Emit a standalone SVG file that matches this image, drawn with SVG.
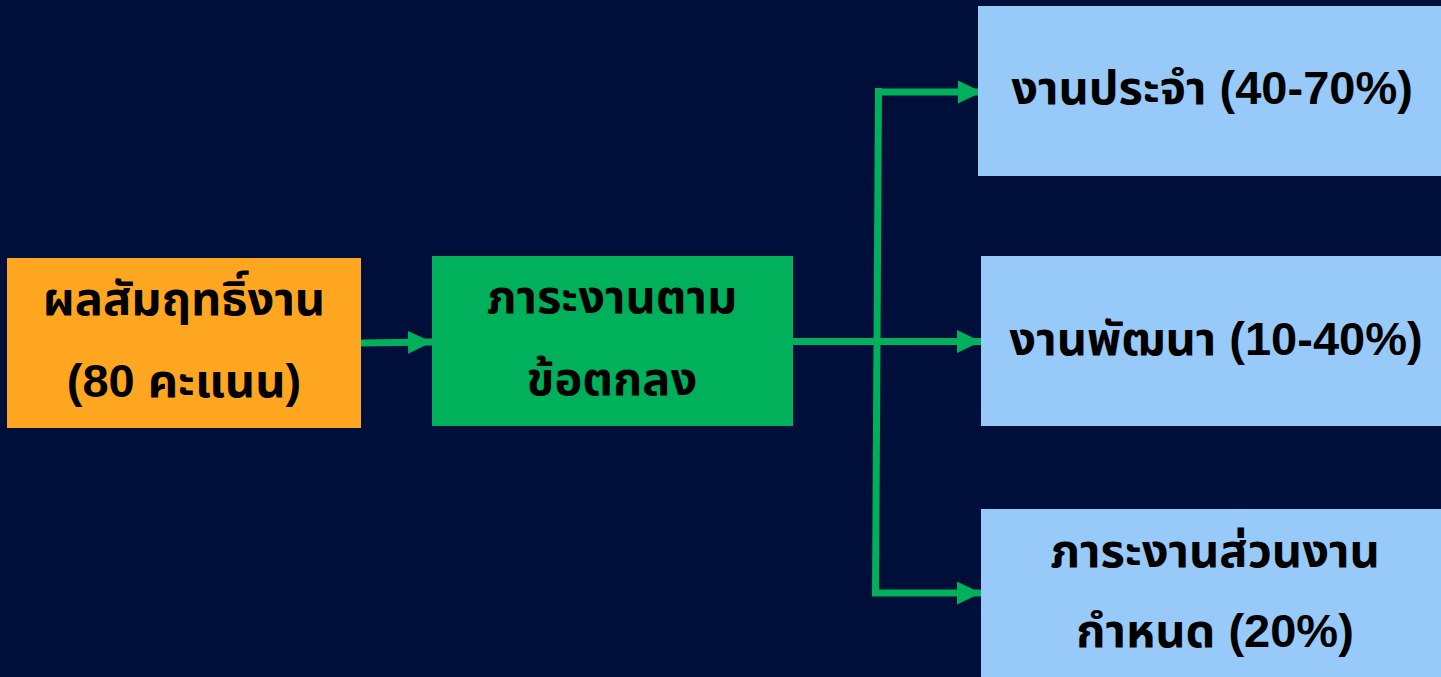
<svg xmlns="http://www.w3.org/2000/svg" width="1441" height="677" viewBox="0 0 1441 677">
<defs>
<style>
.t{font-family:"Liberation Sans","Noto Sans Thai","Tahoma","DejaVu Sans",sans-serif;font-weight:bold;font-size:47px;fill:#000;text-anchor:middle}
.c{fill:none;stroke:#00B05A;stroke-width:7}
</style>
<marker id="ah" markerUnits="userSpaceOnUse" markerWidth="26" markerHeight="24" refX="24" refY="11.5" orient="auto">
<path d="M0,0 L24,11.5 L0,23 Z" fill="#00B05A"/>
</marker>
</defs>
<rect width="1441" height="677" fill="#000E3A"/>
<g id="connectors">
<path class="c" d="M361,343 L432,342" marker-end="url(#ah)"/>
<path class="c" d="M793,341.5 L981,341.5" marker-end="url(#ah)"/>
<path class="c" d="M875,92 L982,92" marker-end="url(#ah)"/>
<path class="c" d="M878.5,88 L875.5,596"/>
<path class="c" d="M872,593 L981,593" marker-end="url(#ah)"/>
</g>
<g id="n1">
<rect x="7" y="258" width="354" height="170" fill="#FFA621"/>
<text class="t" x="184" y="315">ผลสัมฤทธิ์งาน</text>
<text class="t" x="184" y="397">(80 คะแนน)</text>
</g>
<g id="n2">
<rect x="432" y="256" width="361" height="170" fill="#00B05A"/>
<text class="t" x="612" y="313">ภาระงานตาม</text>
<text class="t" x="612" y="395">ข้อตกลง</text>
</g>
<g id="n3">
<rect x="978" y="6" width="463" height="170" fill="#98CAF9"/>
<text class="t" x="1212" y="104">งานประจำ (40-70%)</text>
</g>
<g id="n4">
<rect x="981" y="256" width="460" height="170" fill="#98CAF9"/>
<text class="t" x="1216" y="355">งานพัฒนา (10-40%)</text>
</g>
<g id="n5">
<rect x="981" y="509" width="460" height="168" fill="#98CAF9"/>
<text class="t" x="1215" y="567">ภาระงานส่วนงาน</text>
<text class="t" x="1215" y="647">กำหนด (20%)</text>
</g>
</svg>
